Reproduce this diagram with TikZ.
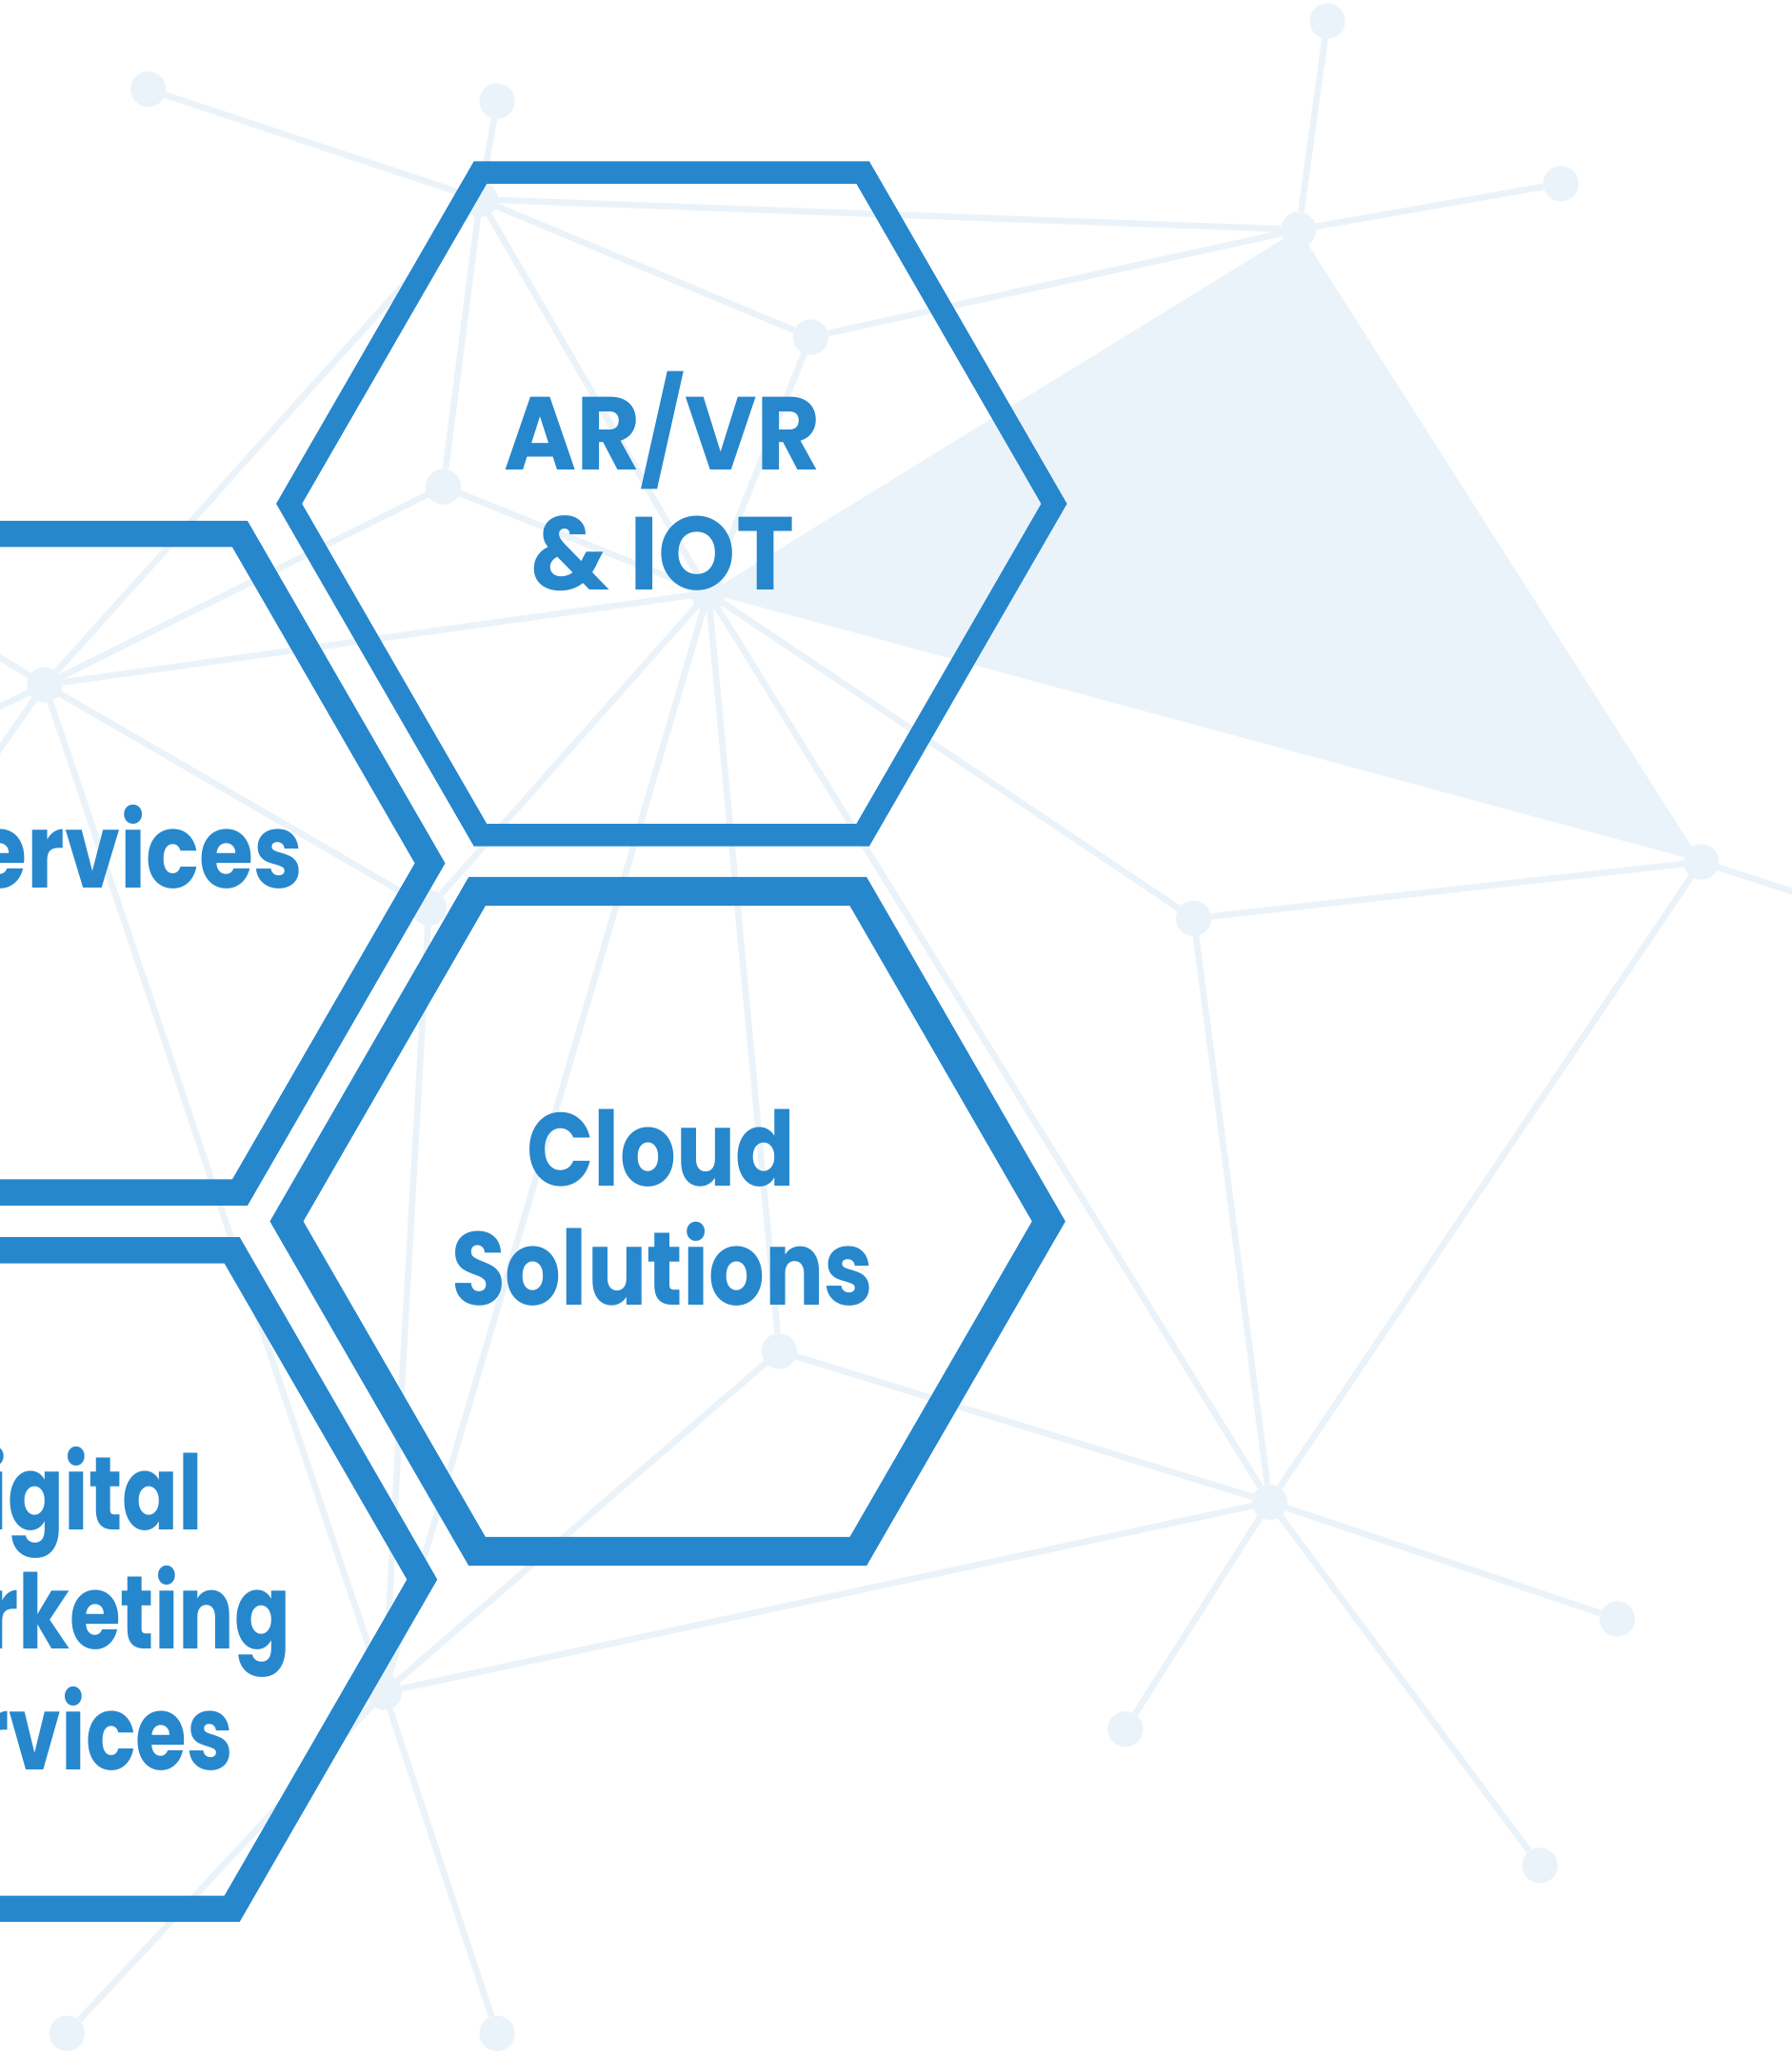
\documentclass[tikz,border=0pt]{standalone}
\usepackage{fontspec}
\setmainfont{Poppins}
\newfontfamily\popA{Poppins}[FakeStretch=0.95]
\newfontfamily\popB{Poppins}[FakeStretch=0.85]
\newfontfamily\popC{Poppins}[FakeStretch=0.8]
\definecolor{hexc}{RGB}{38,135,205}
\definecolor{netc}{RGB}{235,243,250}
\begin{document}
\begin{tikzpicture}[x=1pt,y=-1pt,
  net/.style={line width=4.8pt, draw=netc},
  dot/.style={circle, fill=netc, minimum size=27pt, inner sep=0pt},
  hexb/.style={draw=hexc, line join=miter, miter limit=10},
  lbl/.style={text=hexc, font=\popB\fontsize{79}{92}\selectfont\bfseries, inner sep=0pt},
  lbla/.style={lbl, font=\popA\fontsize{79}{92}\selectfont\bfseries},
  lblc/.style={lbl, font=\popC\fontsize{79}{92}\selectfont\bfseries}
]
\useasboundingbox (0,0) rectangle (1366,1568);
\clip (0,0) rectangle (1366,1568);
\fill[white] (0,0) rectangle (1366,1568);

% network nodes
\node[dot] (n1) at (113,68) {};
\node[dot] (n2) at (379,77) {};
\node[dot] (n3) at (366,152) {};
\node[dot] (n4) at (1012,16) {};
\node[dot] (n5) at (990,175) {};
\node[dot] (n6) at (1190,140) {};
\node[dot] (n7) at (618,257) {};
\node[dot] (n8) at (338,371) {};
\node[dot] (n9) at (540,452) {};
\node[dot] (n10) at (34,522) {};
\node[dot] (n11) at (910,700) {};
\node[dot] (n12) at (1297,657) {};
\node[dot] (n14) at (594,1030) {};
\node[dot] (n15) at (968,1145) {};
\node[dot] (n16) at (1233,1234) {};
\node[dot] (n17) at (858,1318) {};
\node[dot] (n18) at (1174,1422) {};
\node[dot] (n19) at (293,1290) {};
\node[dot] (n20) at (51,1550) {};
\node[dot] (n21) at (379,1550) {};
\node[dot] (n22) at (327,692) {};
\coordinate (e1) at (1420,697);
\coordinate (e2) at (-68,460);
\coordinate (e3) at (-68,572);
\coordinate (e4) at (-68,668);

% shaded triangle
\fill[netc] (n5.center) -- (n9.center) -- (n12.center) -- cycle;

% network links
\foreach \a/\b in {n1/n3,n2/n3,n3/n5,n3/n7,n3/n8,n3/n9,n3/n10,
  n4/n5,n5/n6,n5/n7,n7/n9,n8/n9,n8/n10,n9/n10,n9/n11,n9/n14,n9/n15,
  n9/n19,n9/n22,n10/n22,n10/n19,n22/n19,n11/n12,n11/n15,n12/n15,
  n14/n15,n14/n19,n15/n16,n15/n17,n15/n18,n15/n19,n19/n20,n19/n21,
  n12/e1,n10/e2,n10/e3,n10/e4}
  \draw[net] (\a.center) -- (\b);

% hexagons
\coordinate (h1) at (512,384);
\coordinate (h2) at (509,931);
\coordinate (h3) at (38,658);
\coordinate (h4) at (32,1204);
\draw[hexb, line width=17pt] (h1) +(0:291.6) -- +(60:291.6) -- +(120:291.6) -- +(180:291.6) -- +(240:291.6) -- +(300:291.6) -- cycle;
\draw[hexb, line width=22pt] (h2) +(0:290.5) -- +(60:290.5) -- +(120:290.5) -- +(180:290.5) -- +(240:290.5) -- +(300:290.5) -- cycle;
\draw[hexb, line width=20pt] (h3) +(0:289.8) -- +(60:289.8) -- +(120:289.8) -- +(180:289.8) -- +(240:289.8) -- +(300:289.8) -- cycle;
\draw[hexb, line width=20pt] (h4) +(0:289.8) -- +(60:289.8) -- +(120:289.8) -- +(180:289.8) -- +(240:289.8) -- +(300:289.8) -- cycle;

% labels
\node[lbla, anchor=base] (t1) at (505,358) {AR/VR};
\node[lbla, anchor=base] (t2) at (505,450) {\& IOT};
\node[lbl, anchor=base] (t3) at (504,904) {Cloud};
\node[lbl, anchor=base] (t4) at (505,995) {Solutions};
\node[lbl, anchor=base east] (t5) at (231,677) {Services};
\node[lblc, anchor=base east] (t6) at (155,1166) {Digital};
\node[lblc, anchor=base east] (t7) at (222,1257) {Marketing};
\node[lblc, anchor=base east] (t8) at (178,1349) {Services};
\end{tikzpicture}
\end{document}
